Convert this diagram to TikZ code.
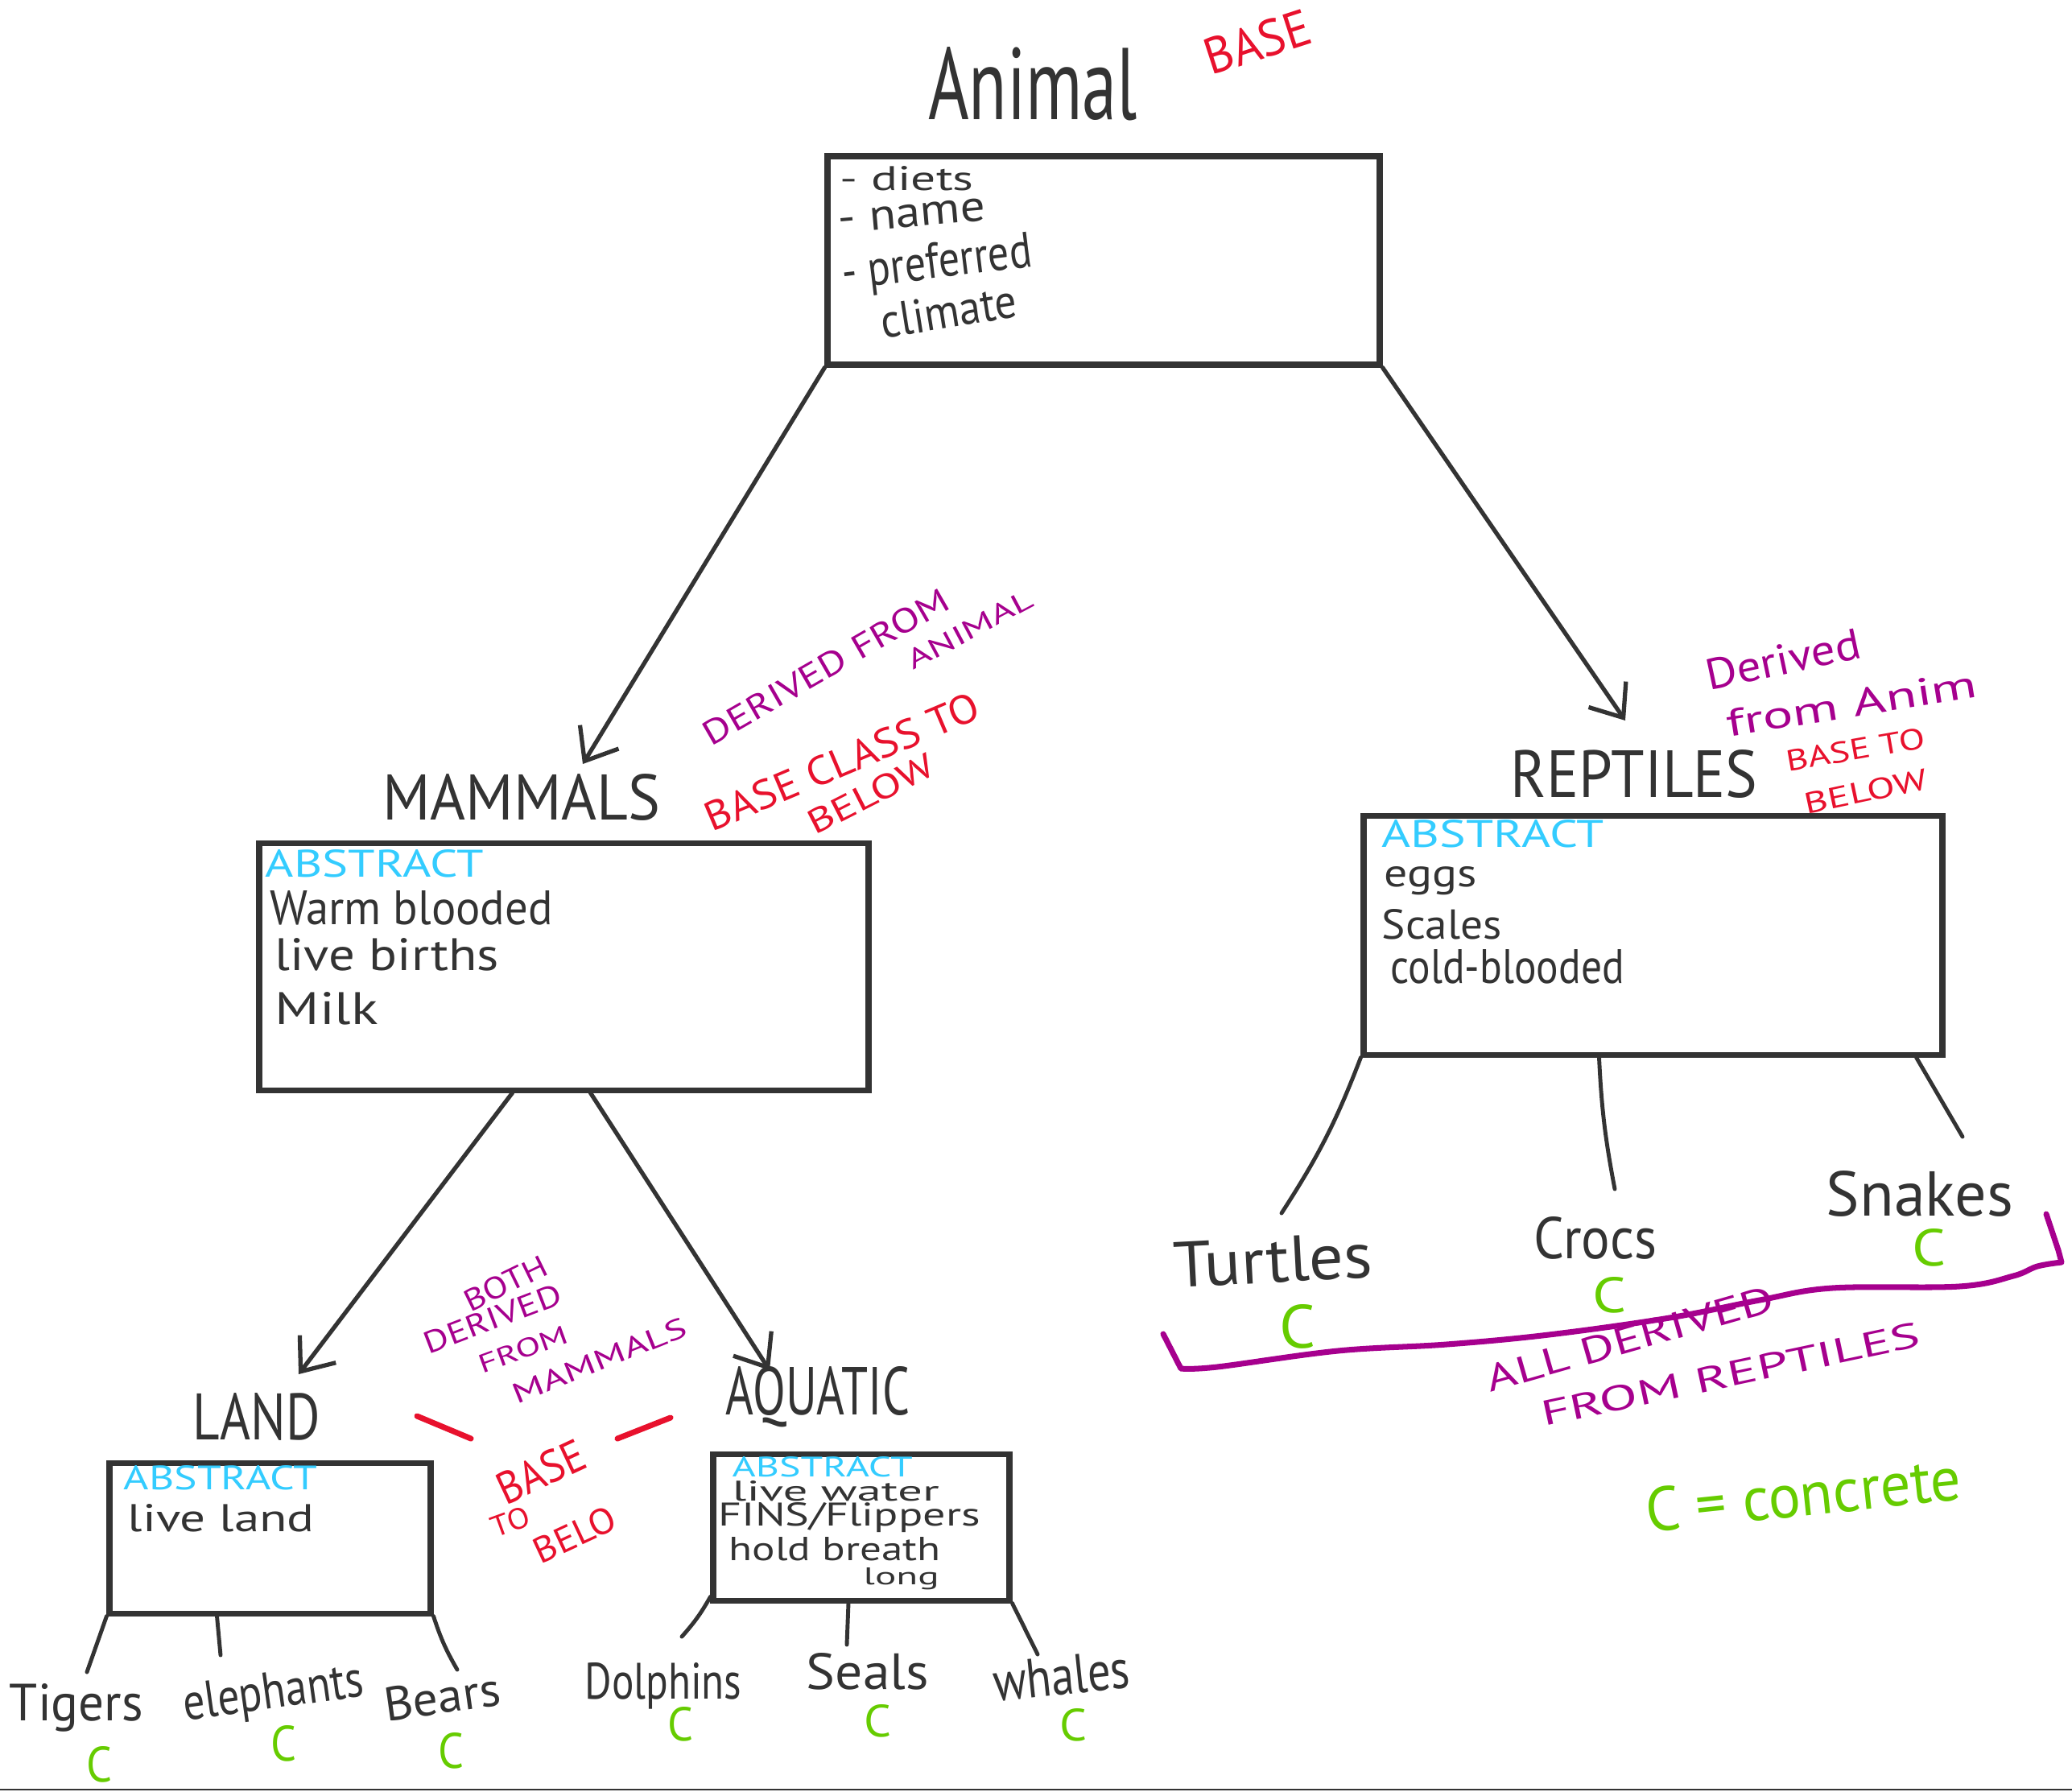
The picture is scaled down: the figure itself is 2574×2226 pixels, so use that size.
\documentclass[tikz,border=0pt]{standalone}
\usepackage{fontspec}
\setmainfont{PT Sans}
\usepackage{graphicx}
\usetikzlibrary{arrows.meta}
\newlength\pxu \setlength\pxu{0.01cm}
\newcommand\tx[3]{\resizebox{#1\pxu}{#2\pxu}{#3}}
\definecolor{ink}{HTML}{333333}
\definecolor{redink}{HTML}{E8112D}
\definecolor{purp}{HTML}{A6008E}
\definecolor{cyanink}{HTML}{33CCFF}
\definecolor{greenink}{HTML}{66CC00}
\tikzset{
 box/.style={draw=ink, line width=2pt, inner sep=0pt},
 arr/.style={draw=ink, line width=1.5pt, line cap=round, -{Straight Barb[length=10pt,width=16pt]}},
 leaf/.style={draw=ink, line width=1.4pt, line cap=round},
 t/.style={inner sep=0pt, text=ink},
 rt/.style={inner sep=0pt, text=redink},
 pt/.style={inner sep=0pt, text=purp},
 ct/.style={inner sep=0pt, text=cyanink},
 gt/.style={inner sep=0pt, text=greenink},
 redstroke/.style={draw=redink, line width=2pt, line cap=round},
 brace/.style={draw=purp, line width=2pt, line cap=round, line join=round},
}
\begin{document}
\begin{tikzpicture}[x=0.01cm,y=-0.01cm]
\fill[white] (0,0) rectangle (2574,2226);
\path[use as bounding box] (0,0) rectangle (2574,2226);

% ---------- Animal ----------
\node[t] (animalT) at (1283,104) {\tx{260}{90}{Animal}};
\node[rt, rotate=18] (baseA) at (1562,52) {\tx{135}{45}{BASE}};
\node[box, minimum width=686\pxu, minimum height=259\pxu] (animal) at (1371,323.5) {};
\node[t, anchor=west] (a1) at (1043,222) {\tx{166}{30}{- diets}};
\node[t, anchor=west, rotate=5] (a2) at (1041,276) {\tx{183}{28}{- name}};
\node[t, anchor=west, rotate=7] (a3) at (1046,344) {\tx{237}{44}{- preferred}};
\node[t, anchor=west, rotate=9] (a4) at (1094,400) {\tx{170}{42}{climate}};

% ---------- Mammals ----------
\node[t] (mammalsT) at (648,990) {\tx{345}{57}{MAMMALS}};
\node[pt, rotate=30] (mDer) at (1026,828) {\tx{345}{30}{DERIVED FROM}};
\node[pt, rotate=28] (mAn) at (1205,782) {\tx{172}{24}{ANIMAL}};
\node[rt, rotate=23] (mBase) at (1046,946) {\tx{365}{36}{BASE CLASS TO}};
\node[rt, rotate=27] (mBelow) at (1082,986) {\tx{170}{30}{BELOW}};
\node[box, minimum width=757\pxu, minimum height=307\pxu] (mammals) at (700.5,1200.5) {};
\node[ct, anchor=west] (mAbs) at (329,1073) {\tx{271}{34}{ABSTRACT}};
\node[t, anchor=west] (m1) at (335,1128) {\tx{351}{42}{Warm blooded}};
\node[t, anchor=west] (m2) at (341,1186) {\tx{278}{40}{live births}};
\node[t, anchor=west] (m3) at (341,1253) {\tx{128}{40}{Milk}};

% ---------- Reptiles ----------
\node[t] (reptilesT) at (2030,961) {\tx{307}{59}{REPTILES}};
\node[pt, rotate=12] (rDer) at (2215,819) {\tx{195}{38}{Derived}};
\node[pt, rotate=9] (rFrom) at (2300,874) {\tx{315}{34}{from Anim}};
\node[rt, rotate=10] (rBase) at (2305,931) {\tx{175}{26}{BASE TO}};
\node[rt, rotate=12] (rBelow) at (2318,983) {\tx{155}{26}{BELOW}};
\node[box, minimum width=719\pxu, minimum height=297\pxu] (reptiles) at (2053.5,1161.5) {};
\node[ct, anchor=west] (rAbs) at (1716,1036) {\tx{276}{34}{ABSTRACT}};
\node[t, anchor=west] (r1) at (1719,1094) {\tx{115}{25}{eggs}};
\node[t, anchor=west] (r2) at (1716,1148) {\tx{149}{37}{Scales}};
\node[t, anchor=west] (r3) at (1727,1201) {\tx{290}{42}{cold-blooded}};

% ---------- Land / Aquatic ----------
\node[t] (landT) at (319,1760) {\tx{158}{58}{LAND}};
\node[t] (aquaticT) at (1016,1735) {\tx{228}{60}{AQUATIC}};
\node[box, minimum width=399\pxu, minimum height=187\pxu] (land) at (335.5,1910.5) {};
\node[ct, anchor=west] (lAbs) at (153,1836) {\tx{241}{30}{ABSTRACT}};
\node[t, anchor=west] (l1) at (158,1886) {\tx{232}{34}{live land}};
\node[box, minimum width=368\pxu, minimum height=182\pxu] (aquatic) at (1070,1897) {};
\node[ct, anchor=west] (qAbs) at (909,1822) {\tx{224}{25}{ABSTRACT}};
\node[t, anchor=west] (q1) at (909,1852) {\tx{257}{25}{live water}};
\node[t, anchor=west] (q2) at (892,1885) {\tx{325}{29}{FINS/Flippers}};
\node[t, anchor=west] (q3) at (905,1924) {\tx{263}{29}{hold breath}};
\node[t, anchor=west] (q4) at (1072,1961) {\tx{94}{21}{long}};

\node[pt, rotate=26] (bBoth) at (628,1594) {\tx{110}{27}{BOTH}};
\node[pt, rotate=21] (bDer) at (612,1638) {\tx{180}{27}{DERIVED}};
\node[pt, rotate=20] (bFrom) at (650,1676) {\tx{115}{23}{FROM}};
\node[pt, rotate=22] (bMam) at (745,1690) {\tx{230}{25}{MAMMALS}};
\node[rt, rotate=25] (bBase) at (672,1828) {\tx{115}{40}{BASE}};
\node[rt, rotate=20] (bTo) at (634,1890) {\tx{48}{26}{TO}};
\node[rt, rotate=25] (bBelo) at (714,1906) {\tx{108}{32}{BELO}};
\draw[redstroke] (518,1759) -- (585,1787);
\draw[redstroke] (767,1787) -- (833,1761);

% ---------- leaves ----------
\node[t, anchor=base] (tigers) at (95,2137) {\tx{166}{46}{Tigers}};
\node[t, anchor=base, rotate=8] (eleph) at (342,2122) {\tx{225}{45}{elephants}};
\node[t, anchor=base, rotate=8] (bears) at (552,2128) {\tx{145}{42}{Bears}};
\node[gt] (c1) at (124,2192) {\tx{32}{44}{C}};
\node[gt] (c2) at (352,2166) {\tx{32}{44}{C}};
\node[gt] (c3) at (560,2175) {\tx{32}{44}{C}};

\node[t, anchor=base] (dolph) at (824,2110) {\tx{195}{45}{Dolphins}};
\node[t, anchor=base] (seals) at (1078,2098) {\tx{152}{45}{Seals}};
\node[t, anchor=base, rotate=6] (whales) at (1321,2105) {\tx{170}{48}{whales}};
\node[gt] (c4) at (845,2142) {\tx{32}{42}{C}};
\node[gt] (c5) at (1090,2138) {\tx{34}{40}{C}};
\node[gt] (c6) at (1333,2143) {\tx{34}{40}{C}};

\node[t, anchor=base, rotate=3] (turtles) at (1583,1593) {\tx{247}{56}{Turtles}};
\node[t, anchor=base] (crocs) at (1982,1563) {\tx{153}{52}{Crocs}};
\node[t, anchor=base] (snakes) at (2385,1510) {\tx{232}{56}{Snakes}};
\node[gt] (c7) at (1612,1648) {\tx{45}{54}{C}};
\node[gt] (c8) at (1999,1609) {\tx{42}{44}{C}};
\node[gt] (c9) at (2396,1550) {\tx{42}{46}{C}};

\node[gt, rotate=6] (legend) at (2240,1856) {\tx{393}{55}{C = concrete}};
\node[pt, rotate=16] (allDer) at (2025,1663) {\tx{370}{33}{ALL DERIVED}};
\node[pt, rotate=12] (allFrom) at (2150,1707) {\tx{480}{31}{FROM REPTILES}};

\draw[brace] (1445,1657) -- (1467,1700) -- plot[smooth, tension=0.6] coordinates {(1467,1700) (1512,1698) (1662,1678) (1797,1670) (1924,1658) (2074,1637) (2186,1615) (2276,1600) (2434,1598) (2501,1585) (2531,1573) (2561,1568)} -- (2557,1553) -- (2542,1508);

% ---------- connectors ----------
\coordinate (mTip) at (724,949);
\coordinate (rTip) at (2019,895);
\coordinate (lTip) at (371,1707);
\coordinate (qTip) at (956,1702);
\draw[arr] (animal.south west) -- (mTip);
\draw[arr] (animal.south east) -- (rTip);
\draw[arr] ([xshift=-64\pxu]mammals.south) -- (lTip);
\draw[arr] ([xshift=33\pxu]mammals.south) -- (qTip);

\coordinate (turTop) at (1592,1507);
\coordinate (croTop) at (2006,1477);
\coordinate (snaTop) at (2438,1412);
\draw[leaf] (reptiles.south west) to[bend left=6] (turTop);
\draw[leaf] ([xshift=-67\pxu]reptiles.south) to[bend right=4] (croTop);
\draw[leaf] ([xshift=-36\pxu]reptiles.south east) -- (snaTop);

\coordinate (tigTop) at (108,2077);
\coordinate (eleTop) at (274,2056);
\coordinate (bearTop) at (568,2074);
\draw[leaf] (land.south west) -- (tigTop);
\draw[leaf] ([xshift=-66\pxu]land.south) -- (eleTop);
\draw[leaf] (land.south east) to[bend right=6] (bearTop);

\coordinate (dolTop) at (847,2033);
\coordinate (seaTop) at (1052,2043);
\coordinate (whaTop) at (1289,2055);
\draw[leaf] ([yshift=8\pxu]aquatic.south west) to[bend left=6] (dolTop);
\draw[leaf] ([xshift=-16\pxu]aquatic.south) -- (seaTop);
\draw[leaf] (aquatic.south east) -- (whaTop);

\draw[draw=ink, line width=0.6pt] (0,2223) -- (2574,2223);
\end{tikzpicture}
\end{document}
